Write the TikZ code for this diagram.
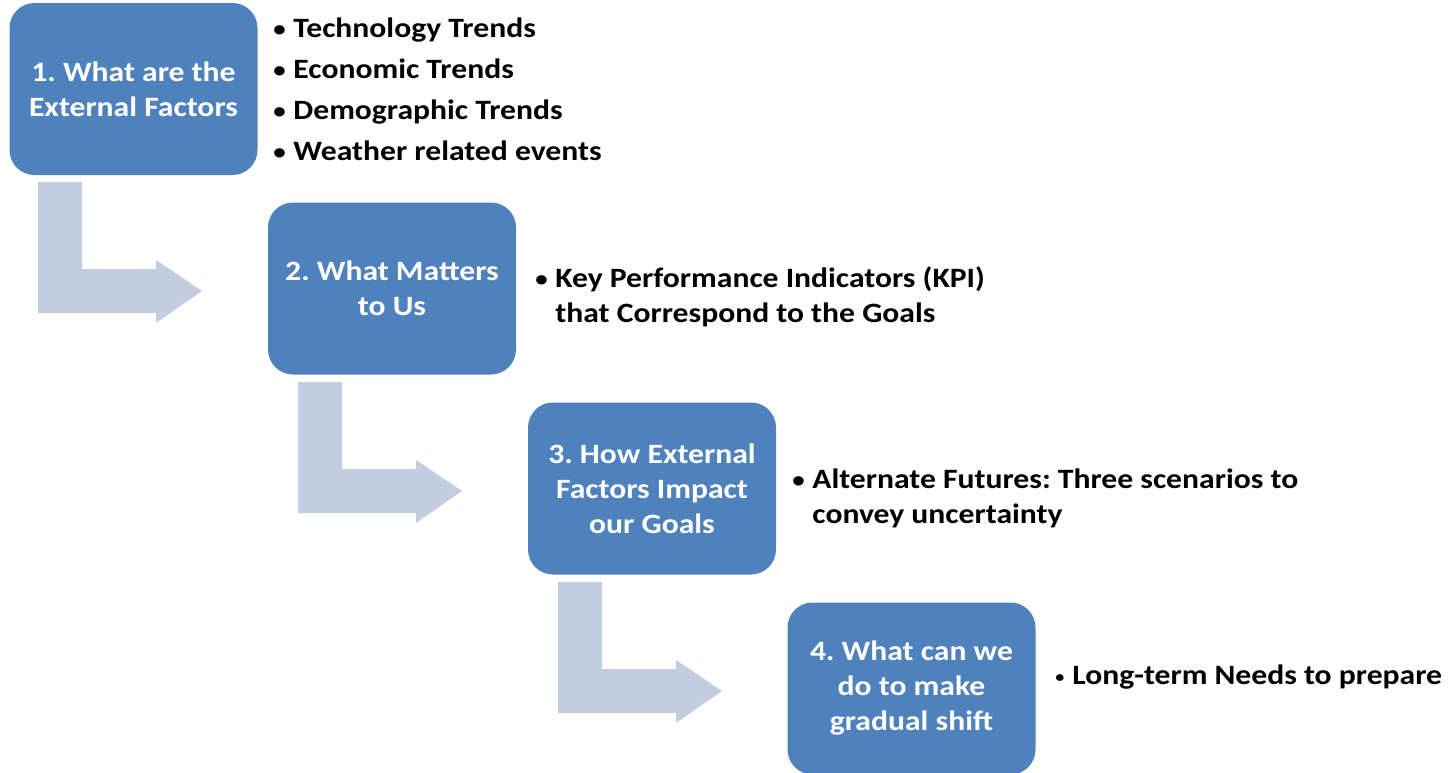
\documentclass[tikz,border=0pt]{standalone}
\usepackage{fontspec}
\setmainfont{Carlito}[FakeStretch=1.13]
\usetikzlibrary{positioning}
\definecolor{stepblue}{HTML}{4F81BD}
\definecolor{arrowgrey}{HTML}{C3CDE1}
\tikzset{
  stepbox/.style={fill=stepblue, rounded corners=12.5pt, minimum width=124pt, minimum height=86pt,
    text=white, align=center, font=\bfseries\fontsize{14pt}{17.5pt}\selectfont, inner sep=0pt},
  bullettext/.style={anchor=west, align=left, inner sep=0pt, font=\bfseries\fontsize{14pt}{17.5pt}\selectfont}
}
\newcommand{\bul}{\makebox[10pt][l]{\fontsize{11pt}{11pt}\selectfont\raisebox{0.5pt}{•}}}
\newcommand{\smallbul}{\makebox[10pt][l]{\hspace{1.5pt}\raisebox{1pt}{\footnotesize•}}}
\frenchspacing

\begin{document}
\begin{tikzpicture}[x=0.5pt, y=-0.5pt]
  \useasboundingbox (0,0) rectangle (1451,772);

  % bent arrows between the steps
  \foreach \dx/\dy in {0/0, 260/200, 520/400}
    \fill[arrowgrey, shift={(\dx,\dy)}] (38,182) -- (82,182) -- (82,269) -- (156,269) -- (156,260)
      -- (202,291) -- (156,323) -- (156,313) -- (38,313) -- cycle;

  \draw (133.5,89) node[stepbox] (s1) {1. What are the\\External Factors}
        (392,288.5) node[stepbox] (s2) {2. What Matters\\to Us}
        (652,488.5) node[stepbox] (s3) {3. How External\\Factors Impact\\our Goals}
        (911.5,688.5) node[stepbox] (s4) {4. What can we\\do to make\\gradual shift};

  % factor lists
  \node[bullettext, anchor=base west] (f1) at (273,37) {\bul Technology Trends};
  \node[bullettext, anchor=base west] (f2) at (273,78) {\bul Economic Trends};
  \node[bullettext, anchor=base west] (f3) at (273,119) {\bul Demographic Trends};
  \node[bullettext, anchor=base west] (f4) at (273,160) {\bul Weather related events};
  \node[bullettext] (k1) at (535,296.5) {\bul Key Performance Indicators (KPI)\\\hspace*{10pt}that Correspond to the Goals};
  \node[bullettext] (a1) at (792,498) {\bul Alternate Futures: Three scenarios to\\\hspace*{10pt}convey uncertainty};
  \node[bullettext] (n1) at (1052,677) {\smallbul Long-term Needs to prepare};
\end{tikzpicture}
\end{document}
